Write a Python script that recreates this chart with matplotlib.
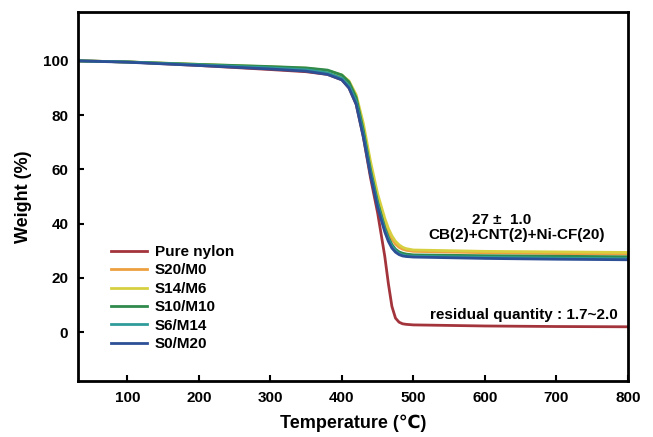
import numpy as np
import matplotlib.pyplot as plt

plt.rcParams['font.family'] = ['Liberation Sans', 'DejaVu Sans']
plt.rcParams['font.weight'] = 'bold'

# temperature points
temps = [31, 100, 200, 300, 350, 380, 400, 410, 420, 430, 440, 450, 460, 465,
         470, 475, 480, 485, 490, 500, 600, 700, 800]

pure_nylon = [100, 99.6, 98.3, 96.8, 96.0, 95.0, 93.0, 90.0, 84, 72, 57, 44,
              28, 18, 9.5, 5.2, 3.7, 3.1, 2.9, 2.7, 2.3, 2.1, 2.0]
s20_m0 = [100, 99.6, 98.6, 97.6, 97.0, 96.0, 94.2, 91.8, 86.5, 75.5, 61.5, 49.5,
          40.5, 37, 34.3, 32.5, 31.3, 30.6, 30.2, 29.8, 29.3, 29.0, 28.8]
s14_m6 = [100, 99.6, 98.7, 97.8, 97.3, 96.4, 94.8, 92.6, 87.5, 77, 63, 51,
          42, 38.3, 35.5, 33.5, 32.2, 31.3, 30.8, 30.3, 29.8, 29.6, 29.4]
s10_m10 = [100, 99.6, 98.7, 97.9, 97.4, 96.6, 94.8, 92.2, 86.5, 74.5, 60, 48,
           38.5, 35, 32.3, 30.6, 29.6, 29.1, 28.8, 28.5, 28.2, 28.0, 27.8]
s6_m14 = [100, 99.6, 98.5, 97.4, 96.7, 95.6, 93.6, 90.8, 85, 73, 59, 47,
          37.8, 34.3, 31.6, 30.0, 29.0, 28.5, 28.2, 28.0, 27.6, 27.3, 27.1]
s0_m20 = [100, 99.5, 98.3, 97.0, 96.2, 95.0, 93.0, 90.0, 84, 72, 58, 46,
          37, 33.5, 31, 29.5, 28.6, 28.1, 27.9, 27.7, 27.2, 26.9, 26.7]

labels = ['Pure nylon', 'S20/M0', 'S14/M6', 'S10/M10', 'S6/M14', 'S0/M20']
series = [pure_nylon, s20_m0, s14_m6, s10_m10, s6_m14, s0_m20]
colors = ['#a3343c', '#eea040', '#d6d040', '#2f8a4c', '#2f9c9a', '#2c4f96']

fig = plt.figure(figsize=(6.53, 4.37), dpi=100)
ax = fig.add_axes([0.1195, 0.128, 0.842, 0.8445])

for lab, ys, c in zip(labels, series, colors):
    ax.plot(temps, ys, color=c, linewidth=2, label=lab)

ax.set_xlim(31, 800)
ax.set_ylim(-18, 118)
ax.set_xticks([100, 200, 300, 400, 500, 600, 700, 800])
ax.set_yticks([0, 20, 40, 60, 80, 100])
ax.tick_params(direction='in', length=4, width=1.5, labelsize=11, pad=7)
for lbl in ax.get_xticklabels() + ax.get_yticklabels():
    lbl.set_fontweight('bold')
for sp in ax.spines.values():
    sp.set_linewidth(2)

ax.set_xlabel('Temperature (\u2103)', fontsize=13, fontweight='bold', labelpad=7)
ax.set_ylabel('Weight (%)', fontsize=13, fontweight='bold', labelpad=8)

ax.text(624, 41.3, '27 \u00b1  1.0', ha='center', va='center', fontsize=11, fontweight='bold')
ax.text(644, 35.9, 'CB(2)+CNT(2)+Ni-CF(20)', ha='center', va='center', fontsize=11, fontweight='bold')
ax.text(655, 6.3, 'residual quantity : 1.7~2.0', ha='center', va='center', fontsize=11, fontweight='bold')

leg = ax.legend(loc='upper left', bbox_to_anchor=(0.06, 0.3686), frameon=False,
                fontsize=11, handlelength=2.35, labelspacing=0.29, handletextpad=0.5,
                borderpad=0, borderaxespad=0)
for t in leg.get_texts():
    t.set_fontweight('bold')

fig.savefig('out.png', dpi=100)
